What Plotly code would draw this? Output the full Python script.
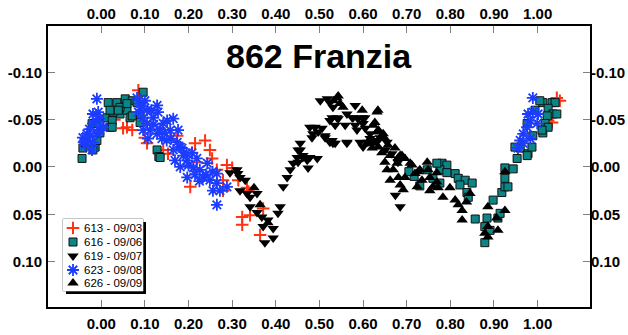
import plotly.graph_objects as go

TITLE = "862 Franzia"
names = ["613 - 09/03", "616 - 09/06", "619 - 09/07", "623 - 09/08", "626 - 09/09"]

x_tick_vals = [0.0, 0.1, 0.2, 0.3, 0.4, 0.5, 0.6, 0.7, 0.8, 0.9, 1.0]
x_tick_text = ["0.00", "0.10", "0.20", "0.30", "0.40", "0.50", "0.60", "0.70", "0.80", "0.90", "1.00"]
y_tick_vals = [-0.10, -0.05, 0.0, 0.05, 0.10]
y_tick_text = ["-0.10", "-0.05", "0.00", "0.05", "0.10"]

# 613 - 09/03
ph613 = [0.085, 0.059, 0.071, 0.050, 0.100, 0.105, 0.174, 0.215, 0.238, 0.249, 0.208, 0.219,
         0.254, 0.288, 0.265, 0.279, 0.334, 0.153, 0.142, 0.204, 0.279, 0.300, 0.314, 0.334,
         0.323, 0.323, 0.341, 0.364, 0.371, 0.337, 0.030, 0.045, 1.044, 1.033, 1.024, 1.051]
mg613 = [-0.081, -0.042, -0.039, -0.041, -0.031, -0.025, -0.033, -0.025, -0.028, -0.018, -0.015, -0.005,
         -0.009, -0.002, 0.003, 0.014, 0.025, -0.014, -0.018, 0.021, 0.025, 0.001, 0.014, 0.022,
         0.053, 0.061, 0.051, 0.072, 0.044, 0.026, -0.050, -0.060, -0.073, -0.047, -0.049, -0.070]

# 616 - 09/06
ph616 = [-0.044, -0.042, -0.014, -0.021, -0.003, 0.013, 0.020, 0.016, 0.036, 0.055, 0.071, 0.082,
         0.096, 0.043, 0.059, 0.066, 0.089, 0.027, 0.043, 0.128, 0.132, 0.089, -0.037, -0.010,
         0.020, 0.025, -0.003, 0.039, 0.059, 0.071, 0.025, -0.019, 0.135,
         0.781, 0.792, 0.776, 0.811, 0.818, 0.834, 0.850, 0.822, 0.838, 0.841, 0.857, 0.884,
         0.879, 0.879, 0.891, 0.909, 0.914, 0.898, 0.918, 0.925, 0.932, 0.925, 0.925, 0.944,
         0.953, 0.960, 0.978, 0.987, 1.012, 0.769, 0.792, 0.760, 0.776, 0.747, 0.717, 0.730,
         0.705, 1.012, 1.033, 1.040, 1.024, 1.035, 1.044, 1.022, 1.017, 1.024, 1.010, 0.989,
         0.976, 0.976, 0.948, 0.994, 1.005]
mg616 = [-0.009, -0.020, -0.021, -0.046, -0.046, -0.052, -0.042, -0.068, -0.068, -0.072, -0.070, -0.068,
         -0.079, -0.056, -0.060, -0.052, -0.056, -0.058, -0.063, -0.018, -0.011, -0.047, -0.026, -0.028,
         -0.060, -0.049, -0.036, -0.060, -0.067, -0.054, -0.042, -0.018, -0.010,
         -0.004, -0.002, 0.003, 0.007, 0.012, 0.014, 0.017, 0.019, 0.027, 0.032, 0.055, 0.054,
         0.063, 0.080, 0.067, 0.054, 0.049, 0.035, 0.027, 0.021, 0.021, 0.012, 0.001, 0.002,
         -0.009, -0.020, -0.014, -0.021, -0.036, -0.004, 0.006, 0.012, 0.017, 0.003, 0.010, 0.020,
         0.005, -0.068, -0.068, -0.068, -0.062, -0.056, -0.056, -0.054, -0.046, -0.042, -0.039, -0.033,
         -0.046, -0.012, -0.021, -0.060, -0.070]

# 619 - 09/07
ph619 = [0.311, 0.318, 0.330, 0.334, 0.357, 0.341, 0.357, 0.368, 0.382, 0.371, 0.394, 0.375,
         0.394, 0.405, 0.410, 0.417, 0.426, 0.433, 0.440, 0.449, 0.456, 0.462, 0.472, 0.474,
         0.495, 0.456, 0.478, 0.490, 0.497, 0.485, 0.513, 0.524, 0.531, 0.524, 0.540, 0.524,
         0.582, 0.563, 0.577, 0.598, 0.600, 0.563, 0.586, 0.611, 0.616, 0.655, 0.295, 0.313,
         0.318, 0.341, 0.502, 0.518, 0.674, 0.685, 0.559, 0.605, 0.639, 0.651,
         0.531, 0.529, 0.543, 0.575, 0.588, 0.604, 0.536, 0.582, 0.506, 0.513, 0.529, 0.536,
         0.563, 0.483, 0.451, 0.462, 0.478, 0.451, 0.593, 0.600, 0.616, 0.634, 0.666, 0.680]
mg619 = [0.003, 0.011, 0.014, 0.028, 0.028, 0.042, 0.048, 0.053, 0.056, 0.063, 0.065, 0.080,
         0.075, 0.049, 0.042, 0.021, 0.011, 0.003, -0.004, -0.010, -0.018, -0.012, -0.007, 0.001,
         -0.009, -0.025, -0.042, -0.042, -0.037, -0.035, -0.033, -0.026, -0.025, -0.049, -0.052, -0.068,
         -0.065, -0.056, -0.052, -0.052, -0.046, -0.026, -0.039, -0.026, -0.035, -0.026, 0.006, 0.007,
         0.025, 0.032, -0.070, -0.072, 0.030, 0.042, -0.044, -0.041, -0.031, -0.018,
         -0.063, -0.052, -0.051, -0.052, -0.051, -0.052, -0.044, -0.044, -0.041, -0.031, -0.028, -0.025,
         -0.025, -0.031, -0.018, -0.010, -0.010, -0.005, -0.026, -0.021, -0.030, -0.028, -0.014, -0.005]

# 623 - 09/08
ph623 = [-0.010, -0.019, -0.007, -0.003, -0.019, -0.033, -0.030, -0.019, -0.042, -0.010, -0.003, 0.004,
         0.082, 0.089, 0.085, 0.096, 0.105, 0.128, 0.130, 0.112, 0.128, 0.139, 0.151, 0.165,
         0.158, 0.176, 0.174, 0.181, 0.165, 0.169, 0.188, 0.197, 0.181, 0.208, 0.219, 0.211,
         0.197, 0.226, 0.243, 0.233, 0.249, 0.265, 0.265, 0.256, 0.272, 0.288, 0.265, 0.105,
         0.119, 0.096, 0.107, 0.142, -0.021, -0.037,
         0.115, 0.120, 0.135, 0.145, 0.150, 0.160, 0.185, 0.195, 0.200, 0.215, 0.225, 0.240,
         0.255, 0.093, 0.100, -0.027, -0.012, -0.040, -0.025,
         0.989, 0.978, 0.989, 0.983, 0.976, 0.967, 0.960, 0.967, 0.983, 0.999, 0.955, 1.001]
mg623 = [-0.072, -0.056, -0.058, -0.051, -0.046, -0.035, -0.028, -0.026, -0.031, -0.035, -0.039, -0.042,
         -0.073, -0.067, -0.058, -0.052, -0.046, -0.065, -0.058, -0.039, -0.035, -0.030, -0.049, -0.051,
         -0.039, -0.039, -0.026, -0.021, -0.018, -0.007, -0.012, -0.007, 0.000, -0.015, -0.009, 0.001,
         0.011, 0.003, -0.004, 0.011, 0.014, 0.017, 0.007, 0.025, 0.025, 0.021, 0.040, -0.060,
         -0.052, -0.039, -0.030, -0.046, -0.018, -0.023,
         -0.060, -0.045, -0.040, -0.036, -0.028, -0.030, -0.020, -0.015, -0.002, 0.008, 0.015, 0.008,
         0.005, -0.064, -0.070, -0.040, -0.048, -0.026, -0.033,
         -0.073, -0.056, -0.058, -0.049, -0.042, -0.035, -0.028, -0.025, -0.030, -0.046, -0.020, -0.056]

# 626 - 09/09
ph626 = [0.543, 0.532, 0.632, 0.627, 0.635, 0.646, 0.623, 0.635, 0.662, 0.673, 0.681, 0.650,
         0.655, 0.669, 0.678, 0.681, 0.662, 0.685, 0.692, 0.696, 0.712, 0.719, 0.730, 0.747,
         0.735, 0.753, 0.769, 0.772, 0.753, 0.783, 0.724, 0.689, 0.708, 0.726, 0.749, 0.760,
         0.769, 0.799, 0.811, 0.818, 0.827, 0.827, 0.845, 0.837, 0.886, 0.886, 0.886, 0.906,
         0.909, 0.925, 0.925, 0.879, 0.364, 0.382, 0.350, 0.554, 0.598,
         0.540, 0.547, 0.634, 0.623, 0.632, 0.650, 0.657, 0.685, 0.696, 0.609, 0.621, 0.643]
mg626 = [-0.075, -0.070, -0.058, -0.047, -0.039, -0.035, -0.025, -0.021, -0.012, -0.020, -0.010, -0.005,
         0.003, 0.003, -0.004, 0.011, 0.014, 0.019, 0.024, 0.011, -0.002, 0.007, 0.003, -0.005,
         0.014, 0.011, 0.006, 0.022, 0.025, 0.032, 0.021, -0.012, -0.004, 0.005, 0.003, 0.021,
         0.016, 0.022, 0.035, 0.040, 0.046, 0.056, 0.028, 0.037, 0.042, 0.063, 0.074, 0.054,
         0.067, 0.046, 0.005, 0.070, 0.040, 0.059, 0.022, -0.063, -0.060,
         -0.073, -0.067, -0.060, -0.044, -0.037, -0.030, -0.023, -0.012, -0.009, -0.025, -0.020, -0.015]

phases = [ph613, ph616, ph619, ph623, ph626]
mags = [mg613, mg616, mg619, mg623, mg626]

RED = "#ff3311"
TEAL = "#0b8585"
BLUE = "#1c3cff"
markers = [
    dict(symbol="cross-thin", size=9, color=RED, line=dict(width=2, color=RED)),
    dict(symbol="square", size=8, color=TEAL, line=dict(width=1, color="#111111")),
    dict(symbol="triangle-down", size=10, color="black", line=dict(width=0)),
    dict(symbol="asterisk", size=10, color=BLUE, line=dict(width=1.8, color=BLUE)),
    dict(symbol="triangle-up", size=10, color="black", line=dict(width=0)),
]

W, H = 628, 335
L, R, T, B = 48, 38, 26, 28
PW, PH = W - L - R, H - T - B
X_RANGE = [-0.122, 1.120]
Y_RANGE = [0.148, -0.149]


def px_x(p):
    return (p - L) / PW


def px_y(p):
    return (H - B - p) / PH


fig = go.Figure()
for i in range(5):
    on_top = i == 4
    fig.add_trace(go.Scatter(
        x=phases[i], y=mags[i], mode="markers", name=names[i], marker=markers[i],
        xaxis="x2" if on_top else "x", yaxis="y2" if on_top else "y",
        showlegend=False, hoverinfo="skip"))

# custom legend (inset axis in pixel units)
LEG_X0, LEG_X1, LEG_Y0, LEG_Y1 = 63, 143, 219, 291
row_offsets = [9, 23, 37, 51, 64]
for i in range(5):
    fig.add_trace(go.Scatter(
        x=[10], y=[row_offsets[i]], mode="markers", marker=markers[i],
        xaxis="x3", yaxis="y3", showlegend=False, hoverinfo="skip"))
    fig.add_annotation(x=19, y=row_offsets[i], xref="x3", yref="y3", text=names[i],
                       showarrow=False, xanchor="left", yanchor="middle",
                       font=dict(family="Liberation Sans, Arial", size=11.5, color="black"))

# legend box with shadow
fig.add_shape(type="rect", xref="paper", yref="paper", layer="below",
              x0=px_x(LEG_X0 + 3), x1=px_x(LEG_X1 + 3), y0=px_y(LEG_Y1 + 3), y1=px_y(LEG_Y0 + 3),
              fillcolor="black", line=dict(width=0))
fig.add_shape(type="rect", xref="paper", yref="paper", layer="below",
              x0=px_x(LEG_X0), x1=px_x(LEG_X1), y0=px_y(LEG_Y1), y1=px_y(LEG_Y0),
              fillcolor="white", line=dict(width=1, color="#8a8a8a"))

fig.add_annotation(x=0.5, y=px_y(56), xref="paper", yref="paper", text="<b>" + TITLE + "</b>",
                   showarrow=False, xanchor="center", yanchor="middle",
                   font=dict(family="Liberation Sans, Arial", size=34, color="black"))

tickfont = dict(family="Liberation Sans, Arial", size=15, color="black", weight="bold")
common = dict(showgrid=False, zeroline=False, ticks="inside", ticklen=7, tickwidth=1,
              tickcolor="#808080", tickfont=tickfont, tickmode="array", automargin=False)
fig.update_layout(
    width=W, height=H, margin=dict(l=L, r=R, t=T, b=B, autoexpand=False),
    paper_bgcolor="white", plot_bgcolor="white",
    showlegend=False,
    xaxis=dict(range=X_RANGE, tickvals=x_tick_vals, ticktext=x_tick_text, showline=True,
               linecolor="black", linewidth=2, mirror=True, side="bottom",
               ticklabelstandoff=2, **common),
    yaxis=dict(range=Y_RANGE, tickvals=y_tick_vals, ticktext=y_tick_text, showline=True,
               linecolor="black", linewidth=2, mirror=True, side="left",
               ticklabelstandoff=1, **common),
    xaxis2=dict(range=X_RANGE, tickvals=x_tick_vals, ticktext=x_tick_text, overlaying="x",
                side="top", anchor="y2", showline=False, ticklabelstandoff=3, **common),
    yaxis2=dict(range=Y_RANGE, tickvals=y_tick_vals, ticktext=y_tick_text, overlaying="y",
                side="right", anchor="x2", showline=False, ticklabelstandoff=0, **common),
    xaxis3=dict(domain=[px_x(LEG_X0), px_x(LEG_X1)], range=[0, LEG_X1 - LEG_X0], visible=False,
                anchor="y3", fixedrange=True, automargin=False),
    yaxis3=dict(domain=[px_y(LEG_Y1), px_y(LEG_Y0)], range=[LEG_Y1 - LEG_Y0, 0], visible=False,
                anchor="x3", fixedrange=True, automargin=False),
)

fig.write_html("out.html")
